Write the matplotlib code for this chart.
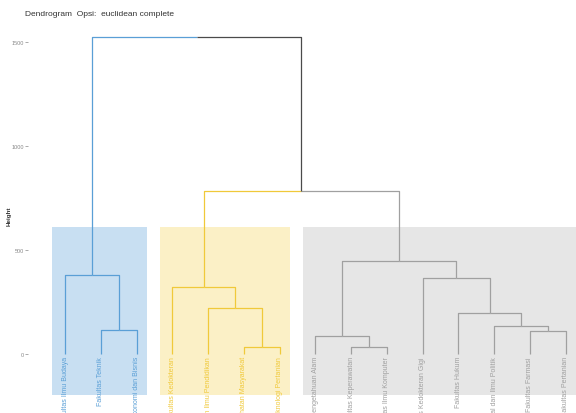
import numpy as np
import matplotlib.pyplot as plt
from matplotlib.patches import Rectangle

plt.rcParams['font.family'] = ['Liberation Sans', 'DejaVu Sans']

# leaf labels in dendrogram order
labels = ['Fakultas Ilmu Budaya', 'Fakultas Teknik', 'Fakultas Ekonomi dan Bisnis',
          'Fakultas Kedokteran', 'Fakultas Keguruan dan Ilmu Pendidikan',
          'Fakultas Kesehatan Masyarakat', 'Fakultas Teknologi Pertanian',
          'Fakultas Matematika dan Ilmu Pengetahuan Alam', 'Fakultas Keperawatan',
          'Fakultas Ilmu Komputer', 'Fakultas Kedokteran Gigi', 'Fakultas Hukum',
          'Fakultas Ilmu Sosial dan Ilmu Politik', 'Fakultas Farmasi', 'Fakultas Pertanian']
cluster = [0, 0, 0, 1, 1, 1, 1, 2, 2, 2, 2, 2, 2, 2, 2]

# merges (left child, right child, height); new nodes numbered from 15
merge_left = [1, 0, 5, 4, 3, 8, 7, 13, 12, 11, 10, 21, 19, 16]
merge_right = [2, 15, 6, 17, 18, 9, 20, 14, 22, 23, 24, 25, 26, 27]
merge_height = [117, 380, 35, 220, 320, 35, 88, 112, 136, 196, 365, 446, 785, 1525]

line_cols = ['#5a9fd6', '#f0c93a', '#a0a0a0']
fill_cols = ['#c8dff2', '#fbf0c6', '#e6e6e6']
top_col = '#4a4a4a'

n = len(labels)
xpos = {i: i + 1 for i in range(n)}
ypos = {i: 0 for i in range(n)}
clus = {i: cluster[i] for i in range(n)}
for k, (a, b, h) in enumerate(zip(merge_left, merge_right, merge_height)):
    node = n + k
    xpos[node] = (xpos[a] + xpos[b]) / 2
    ypos[node] = h
    clus[node] = clus[a] if clus[a] == clus[b] else -1

fig = plt.figure(figsize=(5.76, 4.14), dpi=100)
ax = fig.add_axes([28 / 576, 0, 1 - 28 / 576, 1])

# cluster rectangles
groups = [(0, 2), (3, 6), (7, 14)]
for g, (s, e) in enumerate(groups):
    ax.add_patch(Rectangle((s + 1 - 0.35, -197), (e - s) + 0.65, 807,
                           facecolor=fill_cols[g], edgecolor='none', zorder=0))

# branches
for k, (a, b, h) in enumerate(zip(merge_left, merge_right, merge_height)):
    node = n + k
    for c in (a, b):
        col = line_cols[clus[c]] if clus[c] >= 0 else top_col
        ax.plot([xpos[node], xpos[c], xpos[c]], [h, h, ypos[c]],
                color=col, lw=0.9, solid_capstyle='butt', zorder=2)

for i, lab in enumerate(labels):
    ax.text(i + 1, -10, lab, rotation=90, ha='center', va='top',
            fontsize=5, color=line_cols[cluster[i]])

ax.set_xlim(-0.035, 15.29)
ax.set_ylim(-284, 1707)
ax.set_xticks([])
ax.set_yticks([0, 500, 1000, 1500])
ax.set_yticklabels(['0', '500', '1000', '1500'])
ax.tick_params(axis='y', labelsize=4, colors='#888888', length=2, width=0.5, pad=1)
for s in ax.spines.values():
    s.set_visible(False)

fig.text(9 / 576, 1 - 216 / 414, 'Height', rotation=90, ha='center', va='center',
         fontsize=4.5, fontweight='bold', color='#333333')
fig.text(25 / 576, 1 - 14 / 414, 'Dendrogram  Opsi:  euclidean complete',
         ha='left', va='center', fontsize=6, color='#333333')

fig.savefig('out.png', dpi=100)
